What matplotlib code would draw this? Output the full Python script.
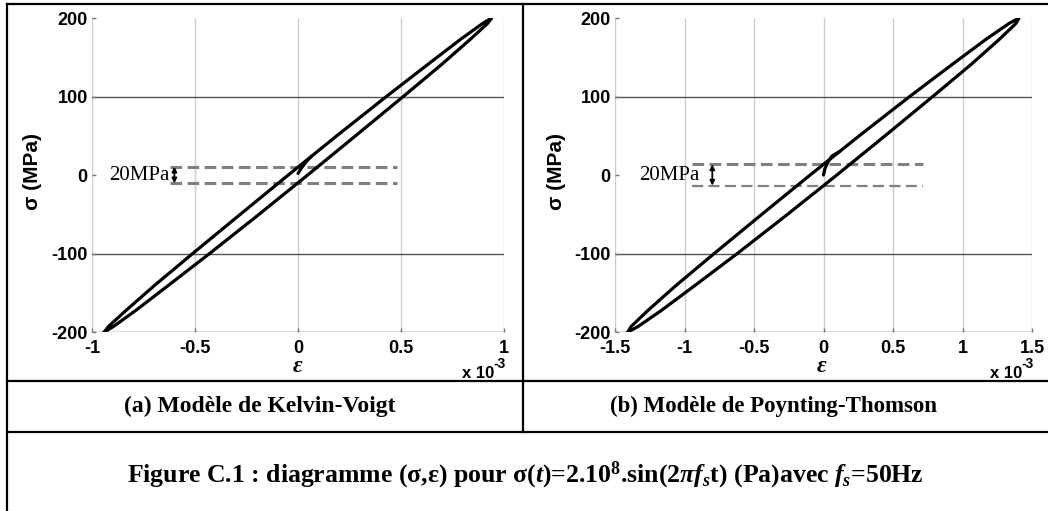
import matplotlib
matplotlib.use("Agg")
import matplotlib.pyplot as plt
from matplotlib.lines import Line2D

# ---------------- data (strain in units of 1e-3, stress in MPa) ----------------
kv_eps = [-0.940, -0.920, -0.837, -0.698, -0.511, -0.289, -0.047, 0.198, 0.429, 0.631,
          0.790, 0.896, 0.940, 0.920, 0.837, 0.698, 0.511, 0.289, 0.047, -0.198,
          -0.429, -0.631, -0.790, -0.896, -0.940]
kv_sig = [-200, -193, -173, -141, -100, -52, 0, 52, 100, 141,
          173, 193, 200, 193, 173, 141, 100, 52, 0, -52,
          -100, -141, -173, -193, -200]
kv_start_eps = [0.0, 0.02, 0.04, 0.066]
kv_start_sig = [2, 10, 17, 24]

pt_eps = [-1.407, -1.384, -1.266, -1.063, -0.786, -0.457, -0.096, 0.272, 0.620, 0.927,
          1.170, 1.334, 1.407, 1.384, 1.266, 1.063, 0.786, 0.457, 0.096, -0.272,
          -0.620, -0.927, -1.170, -1.334, -1.407]
pt_sig = [-200, -193, -173, -141, -100, -52, 0, 52, 100, 141,
          173, 193, 200, 193, 173, 141, 100, 52, 0, -52,
          -100, -141, -173, -193, -200]
pt_start_eps = [0.0, 0.01, 0.03, 0.06, 0.116]
pt_start_sig = [0, 8, 16, 24, 30]

kv_xticks = [-1, -0.5, 0, 0.5, 1]
kv_xticklabels = ['-1', '-0.5', '0', '0.5', '1']
pt_xticks = [-1.5, -1, -0.5, 0, 0.5, 1, 1.5]
pt_xticklabels = ['-1.5', '-1', '-0.5', '0', '0.5', '1', '1.5']
yticks = [-200, -100, 0, 100, 200]
yticklabels = ['-200', '-100', '0', '100', '200']
hgrid = [-200, -100, 100]

kv_band = 10.5      # +/- MPa band (dashed lines)
pt_band = 13.5
band_label = '20MPa'

panel_a = '(a) Modèle de Kelvin-Voigt'
panel_b = '(b) Modèle de Poynting-Thomson'
caption = ('Figure C.1 : diagramme (σ,ε) pour σ($t$)=2.10$^8$.sin(2$\\pi f_s$t) '
           '(Pa)avec $f_s$=50Hz')

# ---------------- style ----------------
plt.rcParams['mathtext.fontset'] = 'custom'
plt.rcParams['mathtext.rm'] = 'Liberation Serif:bold'
plt.rcParams['mathtext.it'] = 'Liberation Serif:italic:bold'
plt.rcParams['mathtext.bf'] = 'Liberation Serif:bold'

W, H = 1048, 511
fig = plt.figure(figsize=(W / 100, H / 100), dpi=100)


def fx(x):
    return x / W


def fy(y):
    return 1 - y / H


def make_axes(left, right, eps, sig, s_eps, s_sig, xticks, xlabels, band,
              dash_x0, dash_x1, arrow_x, text_x, thin_bottom):
    ax = fig.add_axes([fx(left), fy(332), fx(right) - fx(left), fy(18) - fy(332)])
    ax.set_xlim(xticks[0], xticks[-1])
    ax.set_ylim(-200, 200)
    for s in ax.spines.values():
        s.set_visible(False)
    for xv in xticks:
        ax.axvline(xv, color='#cccccc', lw=1.0, zorder=0)
    for yv in hgrid:
        ax.axhline(yv, color='#555555', lw=1.0, zorder=0)
    ax.set_xticks(xticks)
    ax.set_xticklabels(xlabels)
    ax.set_yticks(yticks)
    ax.set_yticklabels(yticklabels)
    ax.tick_params(direction='in', length=3, width=1, color='#777777', labelsize=13)
    ax.tick_params(axis='x', pad=5.5)
    ax.tick_params(axis='y', pad=3)
    for lab in ax.get_xticklabels() + ax.get_yticklabels():
        lab.set_fontfamily('Liberation Sans')
        lab.set_fontweight('bold')
    ax.plot(eps, sig, color='black', lw=2.3, solid_joinstyle='round', zorder=3)
    ax.plot(s_eps, s_sig, color='black', lw=2.3, solid_capstyle='round', zorder=3)
    ax.plot([dash_x0, dash_x1], [band, band], color='#808080', lw=2.2,
            dashes=[3.8, 1.8], zorder=2)
    ax.plot([dash_x0, dash_x1], [-band, -band], color='#808080',
            lw=1.6 if thin_bottom else 2.2,
            dashes=[5.0, 2.4] if thin_bottom else [3.8, 1.8], zorder=2)
    ax.annotate('', xy=(arrow_x, band), xytext=(arrow_x, -band),
                arrowprops=dict(arrowstyle='<|-|>', lw=1.3, color='black',
                                shrinkA=0, shrinkB=0, mutation_scale=7))
    ax.text(text_x, 0, band_label, ha='right', va='center', fontsize=15,
            family='Liberation Serif', zorder=4)
    return ax


ax1 = make_axes(92, 504, kv_eps, kv_sig, kv_start_eps, kv_start_sig,
                kv_xticks, kv_xticklabels, kv_band, -0.62, 0.48, -0.60, -0.625, False)
ax2 = make_axes(615, 1032, pt_eps, pt_sig, pt_start_eps, pt_start_sig,
                pt_xticks, pt_xticklabels, pt_band, -0.945, 0.716, -0.80, -0.89, True)

# axis labels
for cx, ex, right in [(32, 298, 494), (556, 822, 1022)]:
    fig.text(fx(cx), fy(172), 'σ (MPa)', rotation=90, ha='center', va='center',
             fontsize=15, fontweight='bold', family='Liberation Sans')
    fig.text(fx(ex), fy(366), 'ε', ha='center', va='center', fontsize=17,
             fontweight='bold', style='italic', family='Liberation Serif')
    fig.text(fx(right), fy(378), 'x 10', ha='right', va='baseline', fontsize=12,
             fontweight='bold', family='Liberation Sans')
    fig.text(fx(right), fy(368), '-3', ha='left', va='baseline', fontsize=10,
             fontweight='bold', family='Liberation Sans')

# table frame
lines = [
    ((7, 1048), (4, 4)),
    ((7, 7), (4, 511)),
    ((523, 523), (4, 432)),
    ((7, 1048), (381, 381)),
    ((7, 1048), (432, 432)),
]
for xs, ys in lines:
    fig.add_artist(Line2D([fx(xs[0]), fx(xs[1])], [fy(ys[0]), fy(ys[1])],
                          color='black', lw=1.6, solid_capstyle='projecting'))

fig.text(fx(260), fy(406), panel_a, ha='center', va='center', fontsize=17,
         fontweight='bold', family='Liberation Serif')
fig.text(fx(774), fy(406), panel_b, ha='center', va='center', fontsize=16.5,
         fontweight='bold', family='Liberation Serif')
fig.text(fx(525), fy(475), caption, ha='center', va='center', fontsize=18.5,
         fontweight='bold', family='Liberation Serif')

fig.savefig('out.png', dpi=100)
